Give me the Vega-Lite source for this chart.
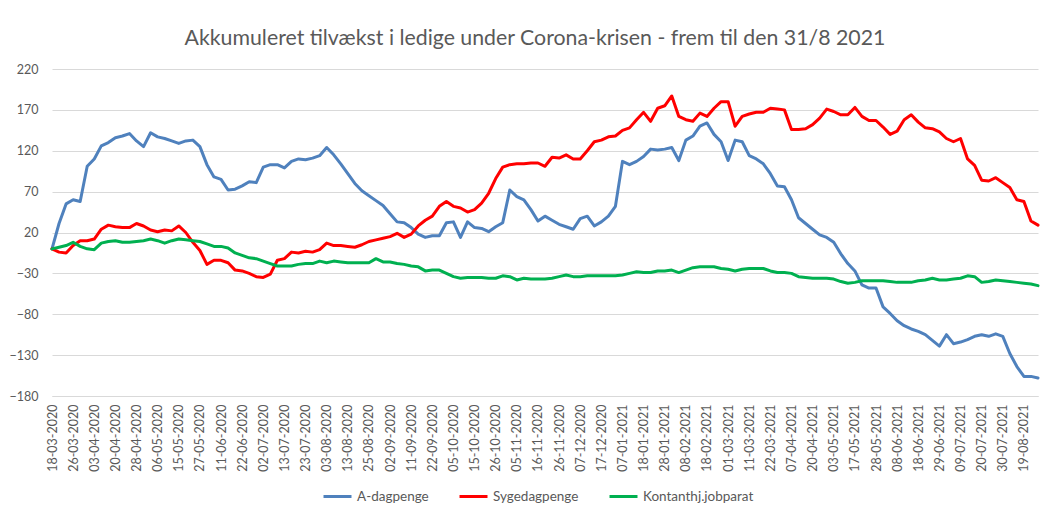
{
  "$schema": "https://vega.github.io/schema/vega-lite/v6.json",
  "width": 986,
  "height": 327,
  "autosize": {"type": "none"},
  "padding": {"left": 52, "top": 69, "right": 11, "bottom": 123},
  "background": "white",
  "title": {
    "text": "Akkumuleret tilvækst i ledige under Corona-krisen - frem til den 31/8 2021",
    "font": "Lato",
    "fontSize": 21.3,
    "fontWeight": "normal",
    "color": "#595959",
    "anchor": "middle",
    "offset": 14,
    "dx": -10
  },
  "config": {
    "view": {"stroke": null},
    "font": "Lato"
  },
  "data": {
    "values": [
      {"d":"18-03-2020","A":0,"S":0,"K":0},
      {"d":"20-03-2020","A":31,"S":-4,"K":2},
      {"d":"25-03-2020","A":55,"S":-5,"K":4},
      {"d":"26-03-2020","A":60,"S":4,"K":8},
      {"d":"30-03-2020","A":58,"S":10,"K":3},
      {"d":"02-04-2020","A":101,"S":10,"K":0},
      {"d":"03-04-2020","A":110,"S":12,"K":-1},
      {"d":"07-04-2020","A":126,"S":24,"K":7},
      {"d":"15-04-2020","A":130,"S":29,"K":9},
      {"d":"20-04-2020","A":136,"S":27,"K":10},
      {"d":"22-04-2020","A":138,"S":26,"K":8},
      {"d":"27-04-2020","A":141,"S":26,"K":8},
      {"d":"28-04-2020","A":132,"S":31,"K":9},
      {"d":"30-04-2020","A":125,"S":28,"K":10},
      {"d":"05-05-2020","A":142,"S":23,"K":12},
      {"d":"06-05-2020","A":137,"S":21,"K":10},
      {"d":"08-05-2020","A":135,"S":23,"K":7},
      {"d":"13-05-2020","A":132,"S":22,"K":10},
      {"d":"15-05-2020","A":129,"S":28,"K":12},
      {"d":"19-05-2020","A":132,"S":20,"K":11},
      {"d":"25-05-2020","A":133,"S":8,"K":10},
      {"d":"27-05-2020","A":125,"S":-2,"K":9},
      {"d":"02-06-2020","A":103,"S":-19,"K":6},
      {"d":"08-06-2020","A":88,"S":-14,"K":3},
      {"d":"11-06-2020","A":85,"S":-14,"K":3},
      {"d":"15-06-2020","A":72,"S":-17,"K":1},
      {"d":"18-06-2020","A":73,"S":-26,"K":-5},
      {"d":"22-06-2020","A":77,"S":-27,"K":-8},
      {"d":"24-06-2020","A":82,"S":-30,"K":-11},
      {"d":"29-06-2020","A":81,"S":-34,"K":-12},
      {"d":"02-07-2020","A":100,"S":-35,"K":-15},
      {"d":"06-07-2020","A":103,"S":-31,"K":-18},
      {"d":"09-07-2020","A":103,"S":-14,"K":-21},
      {"d":"13-07-2020","A":99,"S":-12,"K":-21},
      {"d":"15-07-2020","A":107,"S":-4,"K":-21},
      {"d":"20-07-2020","A":110,"S":-5,"K":-19},
      {"d":"23-07-2020","A":109,"S":-3,"K":-18},
      {"d":"27-07-2020","A":111,"S":-4,"K":-18},
      {"d":"30-07-2020","A":114,"S":-1,"K":-15},
      {"d":"03-08-2020","A":124,"S":7,"K":-17},
      {"d":"05-08-2020","A":115,"S":4,"K":-15},
      {"d":"10-08-2020","A":104,"S":4,"K":-16},
      {"d":"13-08-2020","A":92,"S":3,"K":-17},
      {"d":"17-08-2020","A":80,"S":2,"K":-17},
      {"d":"20-08-2020","A":71,"S":5,"K":-17},
      {"d":"25-08-2020","A":65,"S":9,"K":-17},
      {"d":"27-08-2020","A":59,"S":11,"K":-12},
      {"d":"31-08-2020","A":53,"S":13,"K":-16},
      {"d":"02-09-2020","A":43,"S":15,"K":-16},
      {"d":"04-09-2020","A":33,"S":19,"K":-18},
      {"d":"09-09-2020","A":32,"S":14,"K":-19},
      {"d":"11-09-2020","A":26,"S":18,"K":-21},
      {"d":"15-09-2020","A":18,"S":28,"K":-22},
      {"d":"18-09-2020","A":14,"S":35,"K":-27},
      {"d":"22-09-2020","A":16,"S":40,"K":-26},
      {"d":"24-09-2020","A":16,"S":52,"K":-26},
      {"d":"30-09-2020","A":32,"S":58,"K":-30},
      {"d":"05-10-2020","A":33,"S":52,"K":-34},
      {"d":"07-10-2020","A":14,"S":50,"K":-36},
      {"d":"12-10-2020","A":33,"S":45,"K":-35},
      {"d":"15-10-2020","A":26,"S":48,"K":-35},
      {"d":"19-10-2020","A":25,"S":56,"K":-35},
      {"d":"22-10-2020","A":21,"S":68,"K":-36},
      {"d":"26-10-2020","A":27,"S":86,"K":-36},
      {"d":"28-10-2020","A":32,"S":100,"K":-33},
      {"d":"02-11-2020","A":72,"S":103,"K":-34},
      {"d":"05-11-2020","A":64,"S":104,"K":-38},
      {"d":"09-11-2020","A":60,"S":104,"K":-36},
      {"d":"12-11-2020","A":48,"S":105,"K":-37},
      {"d":"16-11-2020","A":34,"S":105,"K":-37},
      {"d":"18-11-2020","A":40,"S":101,"K":-37},
      {"d":"23-11-2020","A":35,"S":112,"K":-36},
      {"d":"26-11-2020","A":30,"S":111,"K":-34},
      {"d":"30-11-2020","A":27,"S":115,"K":-32},
      {"d":"03-12-2020","A":24,"S":110,"K":-34},
      {"d":"07-12-2020","A":37,"S":110,"K":-34},
      {"d":"09-12-2020","A":40,"S":120,"K":-33},
      {"d":"14-12-2020","A":28,"S":131,"K":-33},
      {"d":"17-12-2020","A":33,"S":133,"K":-33},
      {"d":"21-12-2020","A":40,"S":137,"K":-33},
      {"d":"04-01-2021","A":52,"S":138,"K":-33},
      {"d":"07-01-2021","A":107,"S":145,"K":-32},
      {"d":"11-01-2021","A":103,"S":148,"K":-30},
      {"d":"14-01-2021","A":107,"S":158,"K":-28},
      {"d":"18-01-2021","A":113,"S":167,"K":-29},
      {"d":"20-01-2021","A":122,"S":156,"K":-29},
      {"d":"25-01-2021","A":121,"S":172,"K":-27},
      {"d":"28-01-2021","A":122,"S":175,"K":-27},
      {"d":"01-02-2021","A":124,"S":187,"K":-26},
      {"d":"04-02-2021","A":108,"S":162,"K":-29},
      {"d":"08-02-2021","A":133,"S":158,"K":-26},
      {"d":"10-02-2021","A":138,"S":156,"K":-23},
      {"d":"15-02-2021","A":150,"S":166,"K":-22},
      {"d":"18-02-2021","A":154,"S":162,"K":-22},
      {"d":"22-02-2021","A":140,"S":172,"K":-22},
      {"d":"25-02-2021","A":131,"S":180,"K":-24},
      {"d":"01-03-2021","A":108,"S":180,"K":-25},
      {"d":"03-03-2021","A":133,"S":150,"K":-27},
      {"d":"08-03-2021","A":131,"S":162,"K":-25},
      {"d":"11-03-2021","A":114,"S":165,"K":-24},
      {"d":"15-03-2021","A":110,"S":167,"K":-24},
      {"d":"18-03-2021","A":104,"S":167,"K":-24},
      {"d":"22-03-2021","A":92,"S":172,"K":-27},
      {"d":"24-03-2021","A":77,"S":171,"K":-29},
      {"d":"30-03-2021","A":76,"S":170,"K":-29},
      {"d":"07-04-2021","A":60,"S":146,"K":-30},
      {"d":"09-04-2021","A":38,"S":146,"K":-34},
      {"d":"14-04-2021","A":31,"S":147,"K":-35},
      {"d":"20-04-2021","A":24,"S":152,"K":-36},
      {"d":"22-04-2021","A":17,"S":160,"K":-36},
      {"d":"28-04-2021","A":14,"S":171,"K":-36},
      {"d":"03-05-2021","A":8,"S":168,"K":-37},
      {"d":"05-05-2021","A":-6,"S":164,"K":-40},
      {"d":"11-05-2021","A":-18,"S":164,"K":-42},
      {"d":"17-05-2021","A":-27,"S":173,"K":-41},
      {"d":"19-05-2021","A":-44,"S":162,"K":-39},
      {"d":"25-05-2021","A":-48,"S":157,"K":-39},
      {"d":"28-05-2021","A":-48,"S":157,"K":-39},
      {"d":"01-06-2021","A":-71,"S":149,"K":-39},
      {"d":"04-06-2021","A":-79,"S":140,"K":-40},
      {"d":"08-06-2021","A":-88,"S":144,"K":-41},
      {"d":"10-06-2021","A":-94,"S":158,"K":-41},
      {"d":"15-06-2021","A":-98,"S":164,"K":-41},
      {"d":"18-06-2021","A":-101,"S":155,"K":-39},
      {"d":"22-06-2021","A":-105,"S":148,"K":-38},
      {"d":"25-06-2021","A":-112,"S":147,"K":-36},
      {"d":"29-06-2021","A":-119,"S":143,"K":-38},
      {"d":"01-07-2021","A":-105,"S":135,"K":-38},
      {"d":"06-07-2021","A":-116,"S":131,"K":-37},
      {"d":"09-07-2021","A":-114,"S":135,"K":-36},
      {"d":"13-07-2021","A":-111,"S":110,"K":-33},
      {"d":"16-07-2021","A":-107,"S":102,"K":-34},
      {"d":"20-07-2021","A":-105,"S":84,"K":-41},
      {"d":"22-07-2021","A":-107,"S":83,"K":-40},
      {"d":"27-07-2021","A":-104,"S":87,"K":-38},
      {"d":"30-07-2021","A":-107,"S":81,"K":-39},
      {"d":"04-08-2021","A":-128,"S":75,"K":-40},
      {"d":"11-08-2021","A":-144,"S":60,"K":-41},
      {"d":"19-08-2021","A":-156,"S":58,"K":-42},
      {"d":"24-08-2021","A":-156,"S":34,"K":-43},
      {"d":"31-08-2021","A":-158,"S":29,"K":-45}
    ]
  },
  "encoding": {
    "x": {
      "field": "d",
      "type": "ordinal",
      "sort": null,
      "scale": {"type": "point", "padding": 0},
      "axis": {
        "title": null,
        "values": ["18-03-2020","26-03-2020","03-04-2020","20-04-2020","28-04-2020","06-05-2020","15-05-2020","27-05-2020","11-06-2020","22-06-2020","02-07-2020","13-07-2020","23-07-2020","03-08-2020","13-08-2020","25-08-2020","02-09-2020","11-09-2020","22-09-2020","05-10-2020","15-10-2020","26-10-2020","05-11-2020","16-11-2020","26-11-2020","07-12-2020","17-12-2020","07-01-2021","18-01-2021","28-01-2021","08-02-2021","18-02-2021","01-03-2021","11-03-2021","22-03-2021","07-04-2021","20-04-2021","03-05-2021","17-05-2021","28-05-2021","08-06-2021","18-06-2021","29-06-2021","09-07-2021","20-07-2021","30-07-2021","19-08-2021"],
        "labelAngle": -90,
        "labelFontSize": 12.5,
        "labelColor": "#595959",
        "labelFont": "Lato",
        "labelPadding": 8,
        "ticks": false,
        "grid": false,
        "domain": true,
        "domainColor": "#d9d9d9",
        "labelOverlap": false
      }
    }
  },
  "layer": [
    {
      "mark": {"type": "line", "strokeWidth": 3, "strokeJoin": "round", "strokeCap": "round"},
      "encoding": {
        "y": {
          "field": "A",
          "type": "quantitative",
          "scale": {"domain": [-180, 220], "nice": false, "zero": false},
          "axis": {
            "title": null,
            "values": [-180, -130, -80, -30, 20, 70, 120, 170, 220],
            "labelFontSize": 12.5,
            "labelColor": "#595959",
            "labelFont": "Lato",
            "labelPadding": 14,
            "ticks": false,
            "domain": false,
            "grid": true,
            "gridColor": "#d9d9d9",
            "gridWidth": 1
          }
        },
        "color": {"datum": "A-dagpenge"}
      }
    },
    {
      "mark": {"type": "line", "strokeWidth": 3, "strokeJoin": "round", "strokeCap": "round"},
      "encoding": {
        "y": {"field": "S", "type": "quantitative"},
        "color": {"datum": "Sygedagpenge"}
      }
    },
    {
      "mark": {"type": "line", "strokeWidth": 3, "strokeJoin": "round", "strokeCap": "round"},
      "encoding": {
        "y": {"field": "K", "type": "quantitative"},
        "color": {
          "datum": "Kontanthj.jobparat",
          "scale": {
            "domain": ["A-dagpenge", "Sygedagpenge", "Kontanthj.jobparat"],
            "range": ["#4F81BD", "#FF0000", "#00B050"]
          },
          "legend": {
            "title": null,
            "orient": "none",
            "direction": "horizontal",
            "legendX": 270,
            "legendY": 412,
            "symbolType": "stroke",
            "symbolSize": 784,
            "symbolStrokeWidth": 3,
            "labelFontSize": 13.5,
            "labelColor": "#595959",
            "labelFont": "Lato",
            "labelLimit": 200,
            "columnPadding": 24,
            "labelOffset": 4
          }
        }
      }
    }
  ]
}
